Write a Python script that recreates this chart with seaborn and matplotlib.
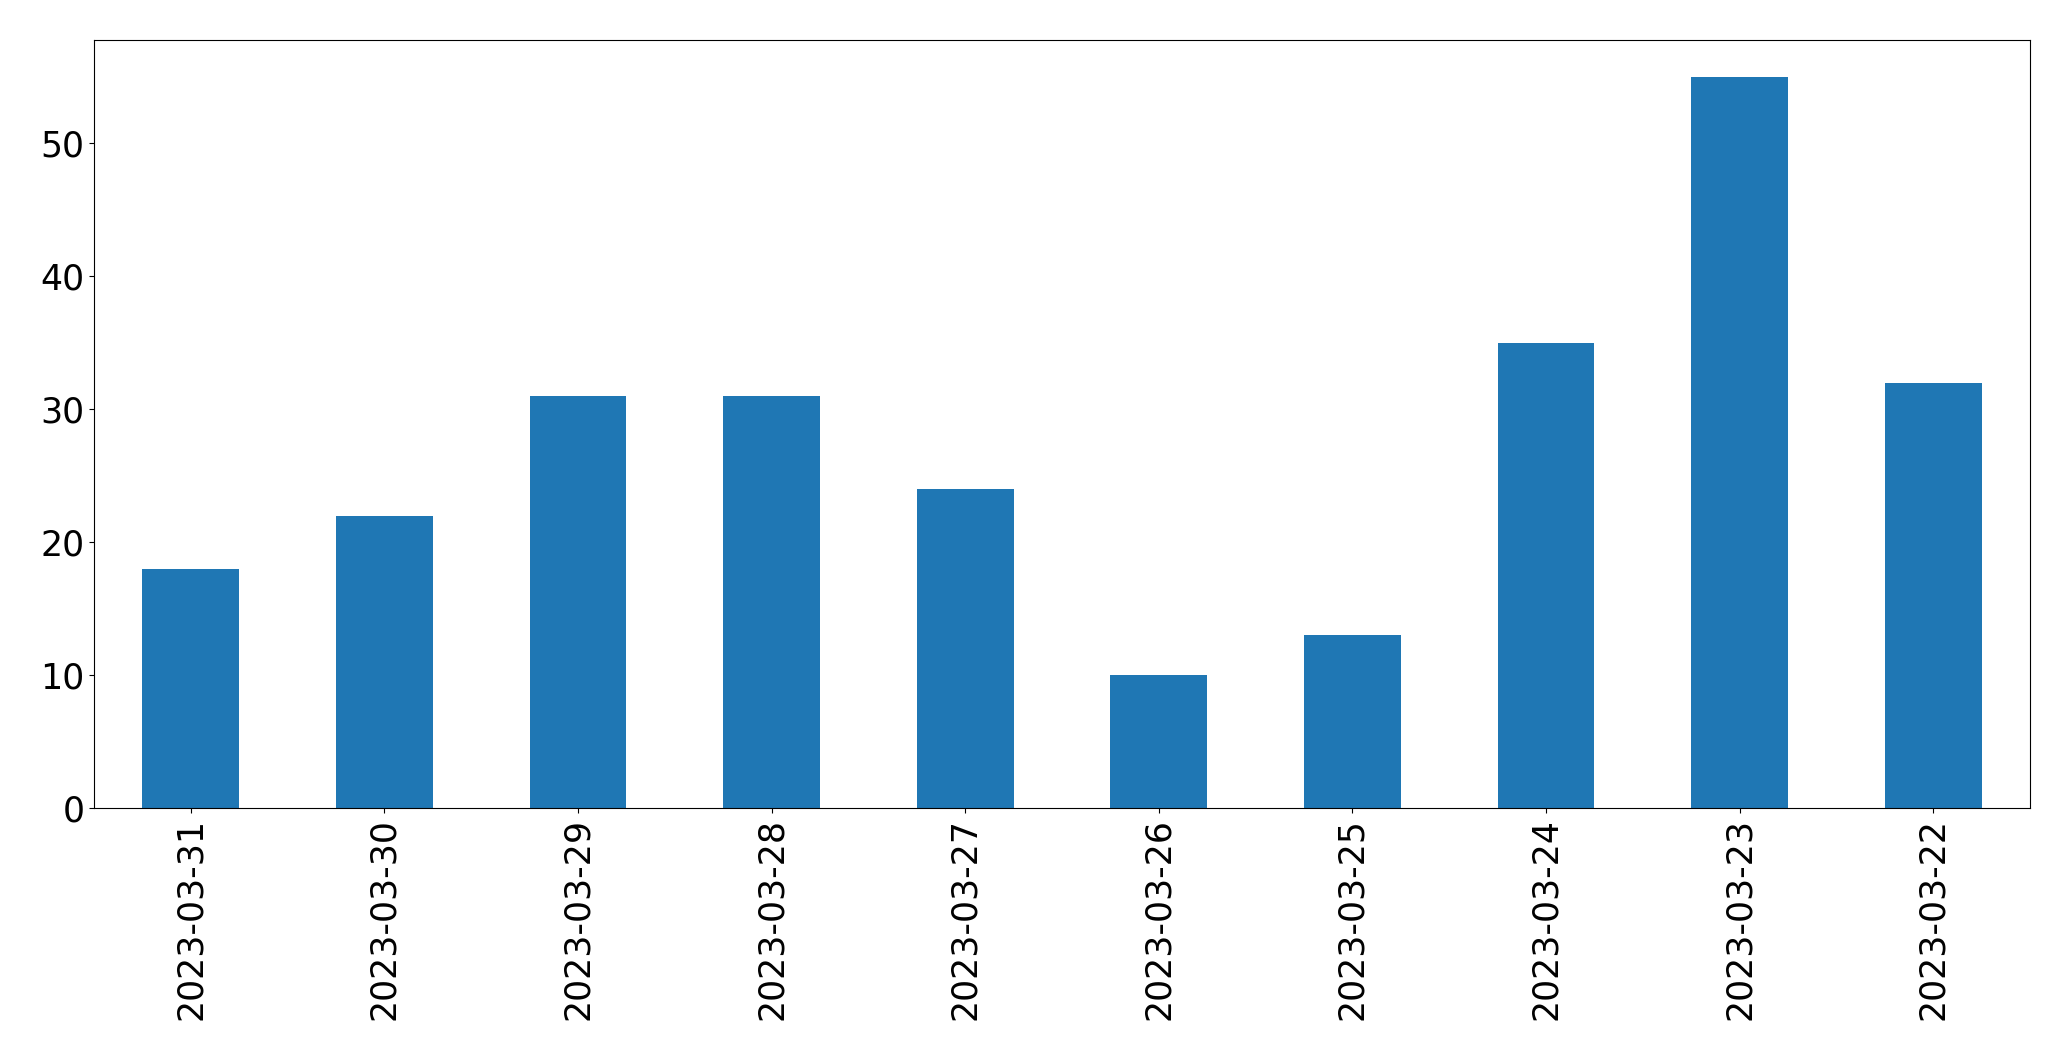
import numpy as np
import pandas as pd
from matplotlib import pyplot as plt
import seaborn as sns

dates = ["2023-03-31", "2023-03-30", "2023-03-29", "2023-03-28", "2023-03-27",
         "2023-03-26", "2023-03-25", "2023-03-24", "2023-03-23", "2023-03-22"]
counts = [18, 22, 31, 31, 24, 10, 13, 35, 55, 32]

df = pd.DataFrame({"date": dates, "count": counts})

fig, ax = plt.subplots(
    figsize=(20.71, 10.61), dpi=100,
    gridspec_kw=dict(left=0.0454, right=0.9802, top=0.962, bottom=0.2385),
)

sns.barplot(data=df, x="date", y="count", color="#1f77b4", saturation=1.0,
            width=0.5, ax=ax, order=dates, edgecolor="none")

ax.set_xlim(-0.5, len(dates) - 0.5)
ax.set_ylim(0, max(counts) * 1.05)
ax.set_xlabel("")
ax.set_ylabel("")
ax.tick_params(axis="x", labelrotation=90, labelsize=25)
ax.tick_params(axis="y", labelsize=25)
for s in ax.spines.values():
    s.set_color("black")

plt.savefig("out.png", dpi=100)
